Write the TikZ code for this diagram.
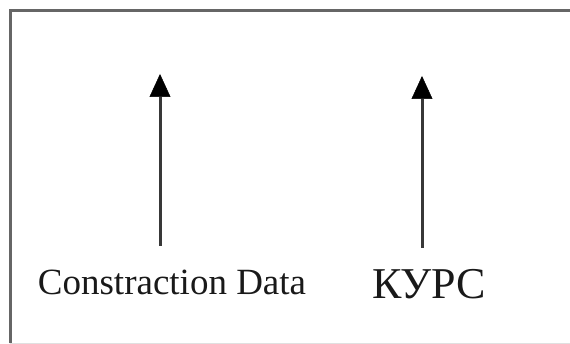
\documentclass[tikz,border=0pt]{standalone}
\usepackage{fontspec}
\setmainfont{Liberation Serif}
\usetikzlibrary{arrows.meta}
\begin{document}
\begin{tikzpicture}[x=1pt,y=-1pt,
  lbl/.style={inner sep=0pt,anchor=base,text=black!90},
  uparrow/.style={line width=3pt,draw=black!78,-{Triangle[width=21pt,length=23pt,color=black,line width=0.5pt]}}]
\useasboundingbox (0,0) rectangle (570,344);
\clip (0,0) rectangle (570,344);
\draw[line width=3pt,draw=black!60] (10,343.5) -- (10,11) -- (590,11);
\draw[line width=1pt,draw=black!12] (10,343.5) -- (590,343.5);
\node[lbl,font=\fontsize{37}{40}\selectfont] (cd) at (172,295) {Constraction Data};
\node[lbl,font=\fontsize{44}{48}\selectfont] (kurs) at (429,299) {КУРС};
\coordinate (cdtop) at (160,74);
\coordinate (kurstop) at (422,76);
\coordinate (cdbot) at (160,246);
\coordinate (kursbot) at (422,248);
\draw[uparrow] (cdbot) -- (cdtop);
\draw[uparrow] (kursbot) -- (kurstop);
\end{tikzpicture}
\end{document}
